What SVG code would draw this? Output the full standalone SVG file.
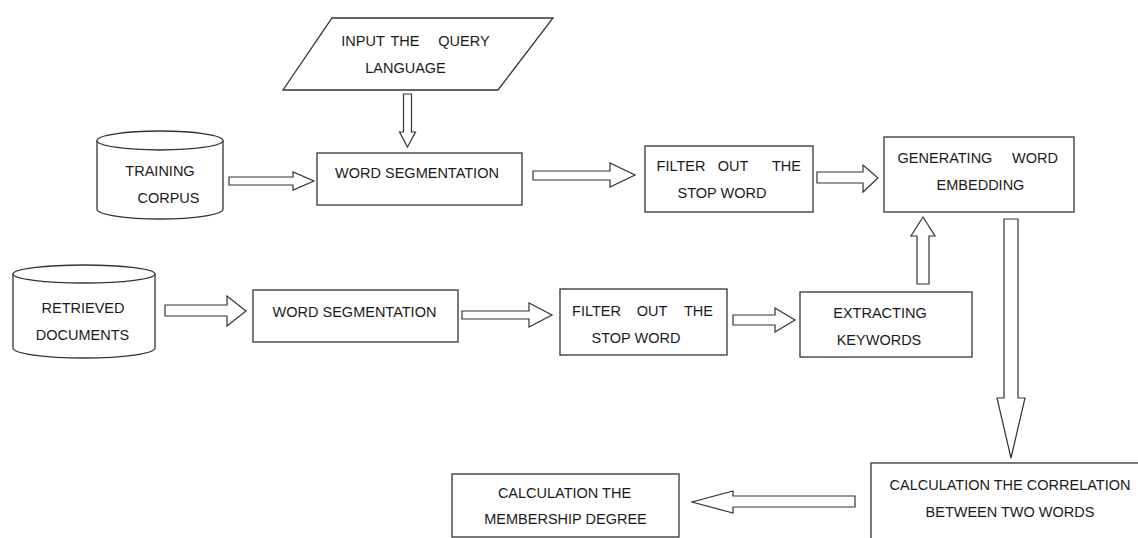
<svg xmlns="http://www.w3.org/2000/svg" width="1138" height="538" viewBox="0 0 1138 538">
  <style>
    .shape { fill: #ffffff; stroke: #333333; stroke-width: 1.3; }
    .arrow { fill: #ffffff; stroke: #333333; stroke-width: 1.2; stroke-linejoin: miter; }
    .label { font-family: "Liberation Sans", Arial, sans-serif; font-size: 14.5px; fill: #1a1a1a; text-anchor: middle; }
  </style>
  <rect width="1138" height="538" fill="#ffffff"/>

  <!-- block arrows -->
  <g id="connectors">
    <!-- query input down to word segmentation -->
    <polygon class="arrow" points="403.5,94 411.5,94 411.5,132 415.5,132 407.5,147 399.5,132 403.5,132"/>
    <!-- training corpus to word segmentation -->
    <polygon class="arrow" points="229,177 293,177 293,172 314,181 293,190 293,185 229,185"/>
    <!-- word segmentation to filter -->
    <polygon class="arrow" points="533,171 610,171 610,163 635,175 610,187 610,180 533,180"/>
    <!-- filter to generating word embedding -->
    <polygon class="arrow" points="817,172 863,172 863,165 878,178 863,192 863,183 817,183"/>
    <!-- retrieved documents to word segmentation -->
    <polygon class="arrow" points="165,305 227,305 227,296 246,311 227,326 227,316 165,316"/>
    <!-- word segmentation to filter (documents) -->
    <polygon class="arrow" points="462,311 529,311 529,303 552,315 529,327 529,319 462,319"/>
    <!-- filter to extracting keywords -->
    <polygon class="arrow" points="733,315 775,315 775,308 795,320 775,332 775,325 733,325"/>
    <!-- extracting keywords up to generating word embedding -->
    <polygon class="arrow" points="917,284 929,284 929,236 935,236 923,217 911,236 917,236"/>
    <!-- generating word embedding down to correlation -->
    <polygon class="arrow" points="1004,219 1018,219 1018,398 1025,398 1011,458 997,398 1004,398"/>
    <!-- correlation left to membership degree -->
    <polygon class="arrow" points="855,496 733,496 733,491 692,502 733,513 733,507 855,507"/>
  </g>

  <g id="input-query">
    <polygon class="shape" points="332,18 553,18 498,90 283,90"/>
    <text class="label" y="46"><tspan x="363">INPUT</tspan><tspan x="405">THE</tspan><tspan x="464">QUERY</tspan></text>
    <text class="label" x="405.5" y="73">LANGUAGE</text>
  </g>

  <g id="training-corpus">
    <path class="shape" d="M97,140.5 L97,209 A63,10 0 0 0 223,209 L223,140.5"/>
    <ellipse class="shape" cx="160" cy="140.5" rx="63" ry="9.5"/>
    <text class="label" x="160" y="176">TRAINING</text>
    <text class="label" x="168.5" y="203">CORPUS</text>
  </g>

  <g id="word-segmentation-1">
    <rect class="shape" x="317" y="153" width="205" height="52"/>
    <text class="label" x="417" y="178">WORD SEGMENTATION</text>
  </g>

  <g id="filter-stop-word-1">
    <rect class="shape" x="645" y="146" width="168" height="66"/>
    <text class="label" y="171"><tspan x="681">FILTER</tspan><tspan x="733">OUT</tspan><tspan x="786.5">THE</tspan></text>
    <text class="label" x="722" y="198">STOP WORD</text>
  </g>

  <g id="word-embedding">
    <rect class="shape" x="884" y="137" width="190" height="75"/>
    <text class="label" y="163"><tspan x="945">GENERATING</tspan><tspan x="1035">WORD</tspan></text>
    <text class="label" x="980.5" y="190">EMBEDDING</text>
  </g>

  <g id="retrieved-documents">
    <path class="shape" d="M13,274 L13,348 A71,10 0 0 0 155,348 L155,274"/>
    <ellipse class="shape" cx="84" cy="274" rx="71" ry="9"/>
    <text class="label" x="83" y="313">RETRIEVED</text>
    <text class="label" x="82.5" y="340">DOCUMENTS</text>
  </g>

  <g id="word-segmentation-2">
    <rect class="shape" x="253" y="290" width="205" height="52"/>
    <text class="label" x="354.5" y="317">WORD SEGMENTATION</text>
  </g>

  <g id="filter-stop-word-2">
    <rect class="shape" x="560" y="289" width="167" height="66"/>
    <text class="label" y="316"><tspan x="596.5">FILTER</tspan><tspan x="652">OUT</tspan><tspan x="698.5">THE</tspan></text>
    <text class="label" x="636" y="343">STOP WORD</text>
  </g>

  <g id="extracting-keywords">
    <rect class="shape" x="800" y="292" width="172" height="65"/>
    <text class="label" x="880" y="318">EXTRACTING</text>
    <text class="label" x="879" y="345">KEYWORDS</text>
  </g>

  <g id="correlation">
    <rect class="shape" x="871" y="463" width="270" height="80"/>
    <text class="label" x="1010" y="490">CALCULATION THE CORRELATION</text>
    <text class="label" x="1010" y="517">BETWEEN TWO WORDS</text>
  </g>

  <g id="membership-degree">
    <rect class="shape" x="452" y="474" width="227" height="63"/>
    <text class="label" x="564.5" y="498">CALCULATION THE</text>
    <text class="label" x="565.5" y="524">MEMBERSHIP DEGREE</text>
  </g>
</svg>
